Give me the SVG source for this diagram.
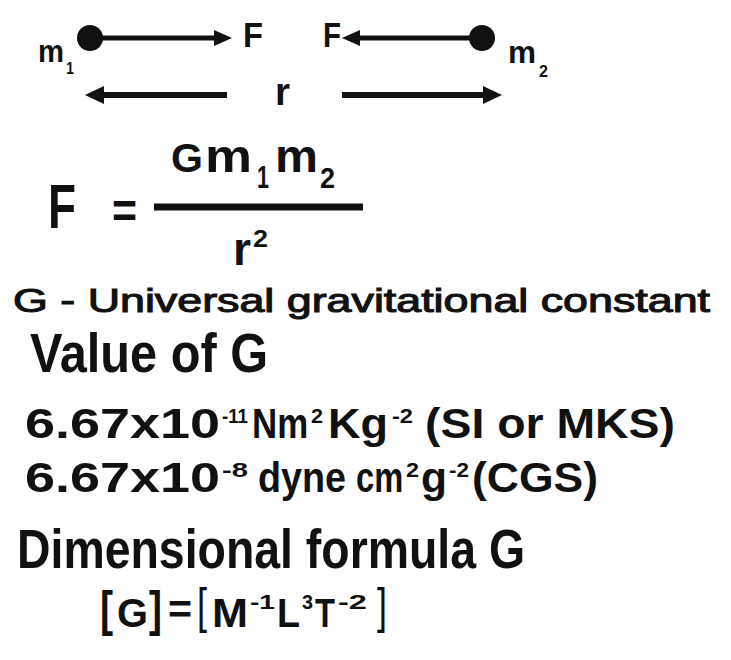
<svg xmlns="http://www.w3.org/2000/svg" width="731" height="660" viewBox="0 0 731 660">
<style>
text{font-family:"Liberation Sans",Arial,sans-serif;fill:#111;font-weight:bold}
.reg{font-weight:normal;stroke:#111;stroke-width:1.1}
.thin{font-weight:normal}
.conn{stroke:#111;fill:none}
</style>
<defs>
<marker id="ah" viewBox="0 0 18 16" refX="12" refY="8" markerWidth="18" markerHeight="16" markerUnits="userSpaceOnUse" orient="auto">
<path d="M0,0 L18,8 L0,16 z" fill="#111"/>
</marker>
<marker id="ah2" viewBox="0 0 19 18" refX="13" refY="9" markerWidth="19" markerHeight="18" markerUnits="userSpaceOnUse" orient="auto">
<path d="M0,0 L19,9 L0,18 z" fill="#111"/>
</marker>
</defs>
<rect width="731" height="660" fill="#fff"/>

<g id="connectors">
<line class="conn" x1="100" y1="38" x2="226" y2="38" stroke-width="5" marker-end="url(#ah)"/>
<line class="conn" x1="472" y1="38" x2="348" y2="38" stroke-width="5" marker-end="url(#ah)"/>
<line class="conn" x1="227" y1="95" x2="91" y2="95" stroke-width="6" marker-end="url(#ah2)"/>
<line class="conn" x1="342" y1="95" x2="496" y2="95" stroke-width="6" marker-end="url(#ah2)"/>
</g>

<g id="mass1">
<circle cx="90" cy="38" r="13" fill="#111"/>
<text x="38" y="62" font-size="32" textLength="26" lengthAdjust="spacingAndGlyphs">m</text>
<text x="66" y="74" font-size="17" textLength="8" lengthAdjust="spacingAndGlyphs">1</text>
</g>
<g id="mass2">
<circle cx="482" cy="38" r="13" fill="#111"/>
<text x="508" y="63" font-size="32" textLength="28" lengthAdjust="spacingAndGlyphs">m</text>
<text x="539" y="77" font-size="17" textLength="9" lengthAdjust="spacingAndGlyphs">2</text>
</g>
<g id="force1"><text x="243" y="47" font-size="35" textLength="20" lengthAdjust="spacingAndGlyphs">F</text></g>
<g id="force2"><text x="323" y="47" font-size="35" textLength="18" lengthAdjust="spacingAndGlyphs">F</text></g>
<g id="distance"><text x="275" y="105" font-size="38" textLength="15" lengthAdjust="spacingAndGlyphs">r</text></g>

<g id="formula">
<text x="48" y="228" font-size="63" textLength="28" lengthAdjust="spacingAndGlyphs">F</text>
<text x="112" y="228" font-size="50" textLength="25" lengthAdjust="spacingAndGlyphs">=</text>
<line x1="154" y1="207" x2="363" y2="207" stroke="#111" stroke-width="7"/>
<text x="171" y="172" font-size="41" textLength="32" lengthAdjust="spacingAndGlyphs">G</text>
<text x="205" y="172" font-size="46" textLength="47" lengthAdjust="spacingAndGlyphs">m</text>
<text x="257" y="188" font-size="32" textLength="12" lengthAdjust="spacingAndGlyphs">1</text>
<text x="275" y="172" font-size="46" textLength="43" lengthAdjust="spacingAndGlyphs">m</text>
<text x="320" y="188" font-size="30" textLength="15" lengthAdjust="spacingAndGlyphs">2</text>
<text x="233" y="265" font-size="46" textLength="18" lengthAdjust="spacingAndGlyphs">r</text>
<text x="253" y="247" font-size="24" textLength="15" lengthAdjust="spacingAndGlyphs">2</text>
</g>

<g id="definition">
<text class="reg" x="13" y="312" font-size="34" textLength="697" lengthAdjust="spacingAndGlyphs">G - Universal gravitational constant</text>
</g>

<g id="value">
<text x="30" y="372" font-size="56" textLength="238" lengthAdjust="spacingAndGlyphs">Value of G</text>
<text x="25" y="438" font-size="43" textLength="195" lengthAdjust="spacingAndGlyphs">6.67x10</text>
<text x="222" y="423" font-size="20" textLength="26" lengthAdjust="spacingAndGlyphs">-11</text>
<text transform="translate(252,438) scale(0.81,1)" font-size="43">Nm</text>
<text x="311" y="423" font-size="20" textLength="12" lengthAdjust="spacingAndGlyphs">2</text>
<text x="328" y="438" font-size="43" textLength="60" lengthAdjust="spacingAndGlyphs">Kg</text>
<text x="392" y="423" font-size="20" textLength="21" lengthAdjust="spacingAndGlyphs">-2</text>
<text x="425" y="438" font-size="43" textLength="250" lengthAdjust="spacingAndGlyphs">(SI or MKS)</text>

<text x="25" y="492" font-size="43" textLength="195" lengthAdjust="spacingAndGlyphs">6.67x10</text>
<text x="222" y="477" font-size="20" textLength="26" lengthAdjust="spacingAndGlyphs">-8</text>
<text x="258" y="492" font-size="43" textLength="88" lengthAdjust="spacingAndGlyphs">dyne</text>
<text transform="translate(356,492) scale(0.76,1)" font-size="43">cm</text>
<text x="406" y="477" font-size="20" textLength="13" lengthAdjust="spacingAndGlyphs">2</text>
<text x="421" y="492" font-size="43" textLength="26" lengthAdjust="spacingAndGlyphs">g</text>
<text x="449" y="477" font-size="20" textLength="20" lengthAdjust="spacingAndGlyphs">-2</text>
<text x="472" y="492" font-size="43" textLength="126" lengthAdjust="spacingAndGlyphs">(CGS)</text>
</g>

<g id="dimension">
<text x="17" y="568" font-size="56" textLength="508" lengthAdjust="spacingAndGlyphs">Dimensional formula G</text>
<text x="100" y="626" font-size="50" textLength="13" lengthAdjust="spacingAndGlyphs">[</text>
<text x="117" y="627" font-size="40" textLength="31" lengthAdjust="spacingAndGlyphs">G</text>
<text x="149" y="626" font-size="50" textLength="13" lengthAdjust="spacingAndGlyphs">]</text>
<text x="168" y="623" font-size="40" textLength="24" lengthAdjust="spacingAndGlyphs">=</text>
<text class="thin" x="197" y="623" font-size="50" textLength="10" lengthAdjust="spacingAndGlyphs">[</text>
<text x="212" y="627" font-size="40" textLength="36" lengthAdjust="spacingAndGlyphs">M</text>
<text x="250" y="609" font-size="20" textLength="25" lengthAdjust="spacingAndGlyphs">-1</text>
<text x="277" y="627" font-size="40" textLength="23" lengthAdjust="spacingAndGlyphs">L</text>
<text x="302" y="609" font-size="20" textLength="11" lengthAdjust="spacingAndGlyphs">3</text>
<text x="315" y="627" font-size="40" textLength="20" lengthAdjust="spacingAndGlyphs">T</text>
<text x="338" y="609" font-size="20" textLength="29" lengthAdjust="spacingAndGlyphs">-2</text>
<text class="thin" x="377" y="623" font-size="50" textLength="10" lengthAdjust="spacingAndGlyphs">]</text>
</g>
</svg>
